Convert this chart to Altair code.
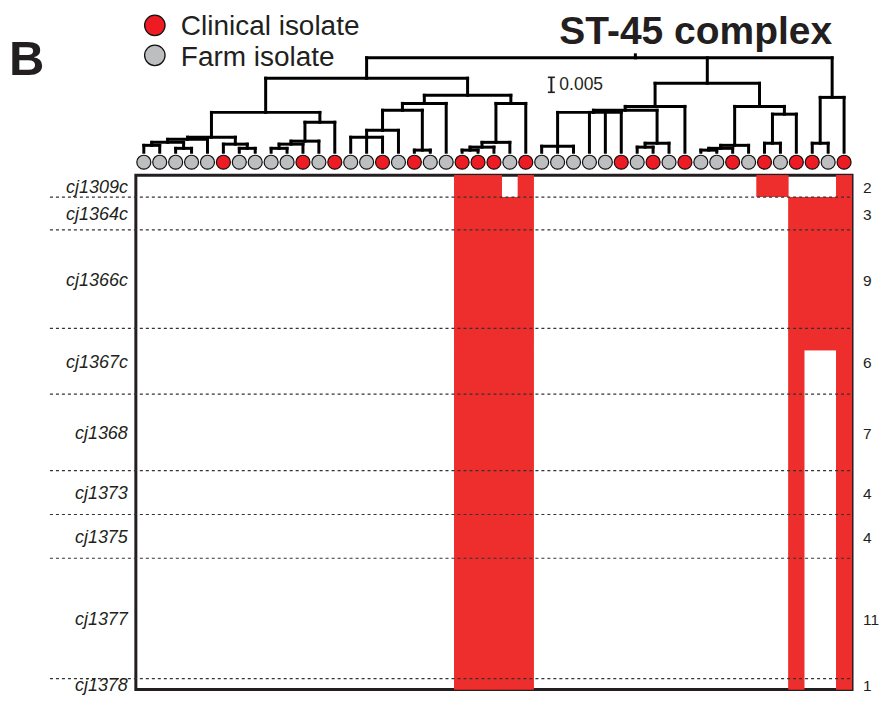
import altair as alt
import pandas as pd

# ---------------- data ----------------
isolate_codes = "FFFFFCFFFFCFCFFCFCFFCCCFCFFFFFCFCFCFFCFCFCCFC"   # C = clinical, F = farm
legend_labels = ["Clinical isolate", "Farm isolate"]
genes = ["cj1309c", "cj1364c", "cj1366c", "cj1367c", "cj1368",
         "cj1373", "cj1375", "cj1377", "cj1378"]
gene_counts = [2, 3, 9, 6, 7, 4, 4, 11, 1]

# number of sub-genes present (filled from top of each gene block), per isolate
present_isolates = [21, 22, 23, 24, 25, 40, 41, 42, 43, 44, 45]
present_counts = [
    [2, 3, 9, 6, 7, 4, 4, 11, 1],
    [2, 3, 9, 6, 7, 4, 4, 11, 1],
    [2, 3, 9, 6, 7, 4, 4, 11, 1],
    [0, 3, 9, 6, 7, 4, 4, 11, 1],
    [2, 3, 9, 6, 7, 4, 4, 11, 1],
    [2, 0, 0, 0, 0, 0, 0, 0, 0],
    [2, 0, 0, 0, 0, 0, 0, 0, 0],
    [0, 3, 9, 6, 7, 4, 4, 11, 1],
    [0, 3, 9, 2, 0, 0, 0, 0, 0],
    [0, 3, 9, 2, 0, 0, 0, 0, 0],
    [2, 3, 9, 6, 7, 4, 4, 11, 1],
]

# dendrogram: (node, height, children); integers are leaves (isolate order)
tree_nodes = [
    ("n1", 0.0023, [1, 2]), ("n2", 0.0013, [3, 4]), ("n3", 0.0033, ["n1", "n2"]),
    ("n4", 0.0043, ["n3", 5]), ("n5", 0.0013, [7, 8]), ("n6", 0.0027, [6, "n5"]),
    ("n7", 0.0050, ["n4", "n6"]), ("n8", 0.0013, [9, 10]), ("n9", 0.0027, ["n8", 11]),
    ("n10", 0.0037, ["n9", 12]), ("n11", 0.0100, ["n10", 13]), ("n12", 0.0133, ["n7", "n11"]),
    ("n13", 0.0050, [14, 15, 16]), ("n14", 0.0073, ["n13", 17]), ("n15", 0.0007, [18, 19]),
    ("n16", 0.0140, ["n14", "n15"]), ("n17", 0.0163, ["n16", 20]), ("n18", 0.0007, [21, 22]),
    ("n19", 0.0017, ["n18", 23]), ("n20", 0.0033, ["n19", 24]), ("n21", 0.0163, ["n20", 25]),
    ("n22", 0.0190, ["n17", "n21"]), ("n23", 0.0247, ["n12", "n22"]),
    ("n24", 0.0020, [26, 27, 28]), ("n25", 0.0133, ["n24", 29, 30, 31]),
    ("n26", 0.0017, [32, 33]), ("n27", 0.0030, ["n26", 34]), ("n28", 0.0140, ["n25", "n27"]),
    ("n29", 0.0153, ["n28", 35]), ("n30", 0.0007, [36, 37]), ("n31", 0.0013, ["n30", 38]),
    ("n32", 0.0023, ["n31", 39]), ("n33", 0.0030, [40, 41]), ("n34", 0.0127, ["n33", 42]),
    ("n35", 0.0153, ["n32", "n34"]), ("n36", 0.0230, ["n29", "n35"]),
    ("n37", 0.0030, [43, 44]), ("n38", 0.0183, ["n37", 45]),
    ("root", 0.0315, ["n23", "n36", "n38"]),
]
root_stem = 0.0010
scale_bar_len = 0.005
scale_bar_base = 0.020

# ---------------- derived tables ----------------
CLIN, FARM = legend_labels
n_iso = len(isolate_codes)
iso_df = pd.DataFrame({
    "iso": list(range(1, n_iso + 1)),
    "source": [CLIN if c == "C" else FARM for c in isolate_codes],
})

pos, hgt, segs = {}, {}, []
for name, h, kids in tree_nodes:
    xs = []
    for k in kids:
        kx = pos[k] if isinstance(k, str) else k
        kh = hgt[k] if isinstance(k, str) else 0.0
        xs.append(kx)
        segs.append({"x": kx, "x2": kx, "y": kh, "y2": h})
    segs.append({"x": min(xs), "x2": max(xs), "y": h, "y2": h})
    pos[name] = sum(xs) / len(xs)
    hgt[name] = h
segs.append({"x": pos["root"], "x2": pos["root"], "y": hgt["root"],
             "y2": hgt["root"] + root_stem})
seg_df = pd.DataFrame(segs)

starts = [sum(gene_counts[:i]) for i in range(len(gene_counts))]
total_rows = sum(gene_counts)
gene_df = pd.DataFrame({
    "gene": genes, "count": gene_counts,
    "mid": [s + c / 2 for s, c in zip(starts, gene_counts)],
})
bound_df = pd.DataFrame({"b": [s + c for s, c in zip(starts, gene_counts)][:-1]})

# presence grid -> merged rectangles (column-wise and row-wise, overlapping, so no seams)
grid = [[False] * n_iso for _ in range(total_rows)]
for iso, row in zip(present_isolates, present_counts):
    for gi, n in enumerate(row):
        for r in range(starts[gi], starts[gi] + n):
            grid[r][iso - 1] = True


def runs_of(seq):
    out, i = [], 0
    while i < len(seq):
        if seq[i]:
            j = i
            while j < len(seq) and seq[j]:
                j += 1
            out.append((i, j))
            i = j
        else:
            i += 1
    return tuple(out)


cells = []
col_runs = [runs_of([grid[r][c] for r in range(total_rows)]) for c in range(n_iso)]
c = 0
while c < n_iso:
    c0 = c
    while c + 1 < n_iso and col_runs[c + 1] == col_runs[c0]:
        c += 1
    for r0, r1 in col_runs[c0]:
        cells.append({"x": c0 + 0.5, "x2": c + 1.5, "y": r0, "y2": r1})
    c += 1
row_runs = [runs_of(grid[r]) for r in range(total_rows)]
r = 0
while r < total_rows:
    r0 = r
    while r + 1 < total_rows and row_runs[r + 1] == row_runs[r0]:
        r += 1
    for c0, c1 in row_runs[r0]:
        cells.append({"x": c0 + 0.5, "x2": c1 + 0.5, "y": r0, "y2": r + 1})
    r += 1
cell_df = pd.DataFrame(cells)

sb_df = pd.DataFrame({"lo": [scale_bar_base], "hi": [scale_bar_base + scale_bar_len],
                      "label": [f"{scale_bar_len:g}"]})
sb_df["mid"] = (sb_df["lo"] + sb_df["hi"]) / 2

# ---------------- styling ----------------
W = 717
H1, H2, H3 = 142, 23, 515
INK = "#231f20"
HEAT_RED = "#ee2e2d"
COLOR_SCALE = alt.Scale(domain=legend_labels, range=["#ed1c24", "#bcbec0"])
XS = alt.Scale(domain=[0.5, n_iso + 0.5], nice=False, zero=False)
YD = alt.Scale(domain=[0, H1 / 3000], nice=False, zero=False)
YH = alt.Scale(domain=[0, total_rows], reverse=True, nice=False, zero=False)

# ---------------- panel 1: dendrogram, legend, titles ----------------
dend = alt.Chart(seg_df).mark_rule(color="#000000", strokeWidth=3, strokeCap="square").encode(
    x=alt.X("x:Q", scale=XS, axis=None), x2="x2:Q",
    y=alt.Y("y:Q", scale=YD, axis=None), y2="y2:Q",
)
sb_v = alt.Chart(sb_df).mark_rule(color=INK, strokeWidth=2).encode(
    x=alt.value(416), y=alt.Y("lo:Q", scale=YD, axis=None), y2="hi:Q")
sb_lo = alt.Chart(sb_df).mark_rule(color=INK, strokeWidth=1.6).encode(
    x=alt.value(412.5), x2=alt.value(419.5), y=alt.Y("lo:Q", scale=YD, axis=None))
sb_hi = alt.Chart(sb_df).mark_rule(color=INK, strokeWidth=1.6).encode(
    x=alt.value(412.5), x2=alt.value(419.5), y=alt.Y("hi:Q", scale=YD, axis=None))
sb_t = alt.Chart(sb_df).mark_text(align="left", baseline="middle", fontSize=17.5, color=INK).encode(
    x=alt.value(424), y=alt.Y("mid:Q", scale=YD, axis=None), text="label:N")

leg_layers = []
for i, lab in enumerate(legend_labels):
    d = pd.DataFrame({"label": [lab]})
    leg_layers.append(alt.Chart(d).mark_point(shape="circle", filled=True, size=420, opacity=1,
                                              stroke="#111111", strokeWidth=1.3).encode(
        x=alt.value(19), y=alt.value(15 + 30 * i),
        color=alt.Color("label:N", scale=COLOR_SCALE, legend=None)))
    leg_layers.append(alt.Chart(d).mark_text(align="left", baseline="top", fontSize=28,
                                             color=INK).encode(
        x=alt.value(45), y=alt.value(3 + 31 * i), text="label:N"))

title_t = alt.Chart(pd.DataFrame({"t": ["ST-45 complex"]})).mark_text(
    align="left", baseline="top", fontSize=39, fontWeight="bold", color=INK).encode(
    x=alt.value(424), y=alt.value(3), text="t:N")
panel_t = alt.Chart(pd.DataFrame({"t": ["B"]})).mark_text(
    align="left", baseline="top", fontSize=49, fontWeight="bold", color=INK).encode(
    x=alt.value(-127), y=alt.value(26), text="t:N")

p1 = alt.layer(dend, sb_v, sb_lo, sb_hi, sb_t, *leg_layers, title_t, panel_t).properties(
    width=W, height=H1)

# ---------------- panel 2: isolate circles ----------------
p2 = alt.Chart(iso_df).mark_point(shape="circle", filled=True, size=196, opacity=1,
                                  stroke="#111111", strokeWidth=1.2).encode(
    x=alt.X("iso:Q", scale=XS, axis=None),
    y=alt.value(10),
    color=alt.Color("source:N", scale=COLOR_SCALE, legend=None),
).properties(width=W, height=H2)

# ---------------- panel 3: presence heatmap ----------------
heat = alt.Chart(cell_df).mark_rect(color=HEAT_RED).encode(
    x=alt.X("x:Q", scale=XS, axis=None), x2="x2:Q",
    y=alt.Y("y:Q", scale=YH, axis=None), y2="y2:Q",
)
dots = alt.Chart(bound_df).mark_rule(color="#333333", strokeWidth=1.2, strokeDash=[3, 3]).encode(
    y=alt.Y("b:Q", scale=YH, axis=None), x=alt.value(-86), x2=alt.value(W))
glab = alt.Chart(gene_df).mark_text(align="right", baseline="middle", fontSize=18, dy=1.5,
                                    fontStyle="italic", color=INK).encode(
    x=alt.value(-8), y=alt.Y("mid:Q", scale=YH, axis=None), text="gene:N")
clab = alt.Chart(gene_df).mark_text(align="left", baseline="middle", fontSize=15.5, dy=1.5,
                                    color=INK).encode(
    x=alt.value(W + 11), y=alt.Y("mid:Q", scale=YH, axis=None), text="count:N")

p3 = alt.layer(heat, dots, glab, clab).properties(
    width=W, height=H3,
    view=alt.ViewBackground(stroke=INK, strokeWidth=3, strokeOpacity=1))

chart = alt.vconcat(p1, p2, p3, spacing=0, bounds="flush").properties(
    padding={"left": 1, "top": 2, "right": 0, "bottom": 0}
).configure(font="Liberation Sans").configure_view(strokeWidth=0, stroke="transparent")

chart.save("out.html", embed_options={"renderer": "svg", "actions": False})
